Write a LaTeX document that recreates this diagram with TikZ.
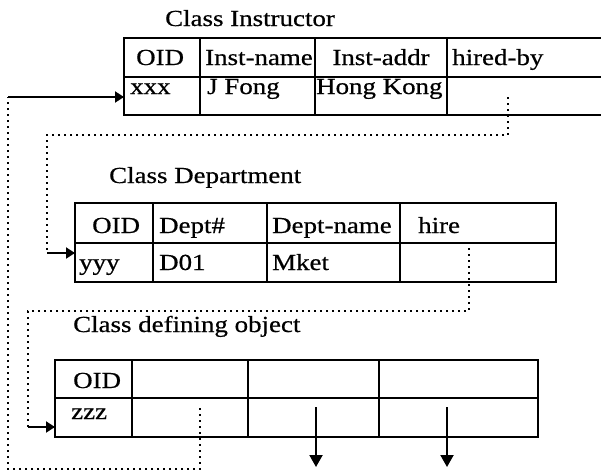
\documentclass[tikz,border=0pt]{standalone}
\usepackage{fontspec}
\setmainfont{Liberation Serif}[FakeStretch=1.17, FakeBold=0.6]
\usetikzlibrary{arrows.meta,positioning}
\tikzset{
	frame/.style={line width=2.8pt},
	colsep/.style={line width=2pt},
	ref/.style={line width=1.7pt, dash pattern=on 1.7pt off 4.3pt},
	cell/.style={anchor=base west, inner sep=0pt},
	ptr/.style={line width=1.9pt, -{Triangle[length=9pt,width=11pt]}},
	down/.style={line width=2pt, -{Triangle[length=12pt,width=13pt]}}
}

\begin{document}
\begin{tikzpicture}[x=1pt, y=-1pt, font=\fontsize{23}{27}\selectfont]

			\useasboundingbox (0,0) rectangle (601,472);

			% ================= Class Instructor =================
			\begin{scope}
				\coordinate (ins-in)   at (124,97);
				\coordinate (ins-hire) at (508,97);

				\node[cell] (ins-title) at (165,26) {Class Instructor};

				\draw[frame] (601,38) -- (124,38) -- (124,115) -- (601,115);
				\draw[frame] (124,77) -- (601,77);
				\foreach \x in {200,315,447}{
					\draw[colsep] (\x,38) -- (\x,115);
				}

				\foreach \x/\y/\t/\n in {
					136/65/OID/ins-oid,
					205/65/Inst-name/ins-name,
					452/65/hired-by/ins-by,
					130/94/xxx/ins-xxx,
					207/94/J Fong/ins-fong,
					316/94/Hong Kong/ins-hk
				}{
					\node[cell] (\n) at (\x,\y) {\t};
				}
				\node[anchor=base, inner sep=0pt] (ins-addr) at (381,65) {Inst-addr};
			\end{scope}

			% ================= Class Department =================
			\begin{scope}
				\coordinate (dep-from) at (47,253);
				\coordinate (dep-in)   at (75,253);
				\coordinate (dep-hire) at (469,248);

				\node[cell] (dep-title) at (109,183) {Class Department};

				\draw[frame] (75,203) rectangle (556,282);
				\draw[frame] (75,243) -- (556,243);
				\foreach \x in {153,267,400}{
					\draw[colsep] (\x,203) -- (\x,282);
				}

				\foreach \x/\y/\t/\n in {
					92/233/OID/dep-oid,
					159/233/Dept\#/dep-no,
					272/233/Dept-name/dep-name,
					418/233/hire/dep-hr,
					79/270/yyy/dep-yyy,
					159/270/D01/dep-d01,
					272/270/Mket/dep-mket
				}{
					\node[cell] (\n) at (\x,\y) {\t};
				}
			\end{scope}

			% ================= Class defining object =================
			\begin{scope}
				\coordinate (def-from) at (28,427);
				\coordinate (def-in)   at (55,427);
				\coordinate (def-ref)  at (200,408);
				\coordinate (ins-from) at (8,97);

				\node[cell] (def-title) at (73,332) {Class defining object};

				\draw[frame] (55,360) rectangle (538,437);
				\draw[frame] (55,398) -- (538,398);
				\foreach \x in {132,248,379}{
					\draw[colsep] (\x,360) -- (\x,437);
				}

				\node[cell] (def-oid) at (73,388) {OID};
				\node[cell] (def-zzz) at (71,419) {zzz};

				\foreach \x/\n in {316/a,447/b}{
					\coordinate (def-\n-top) at (\x,407);
					\coordinate (def-\n-end) at (\x,467);
					\draw[down] (def-\n-top) -- (def-\n-end);
				}
			\end{scope}

			% ================= references =================
			\draw[ref] (ins-hire) -- (508,135) -| (dep-from);
			\draw[ptr] (dep-from) -- (dep-in);

			\draw[ref] (dep-hire) -- (469,311) -| (def-from);
			\draw[ptr] (def-from) -- (def-in);

			\draw[ref] (def-ref) -- (200,469) -| (ins-from);
			\draw[ptr] (ins-from) -- (ins-in);

		\end{tikzpicture}
\end{document}
